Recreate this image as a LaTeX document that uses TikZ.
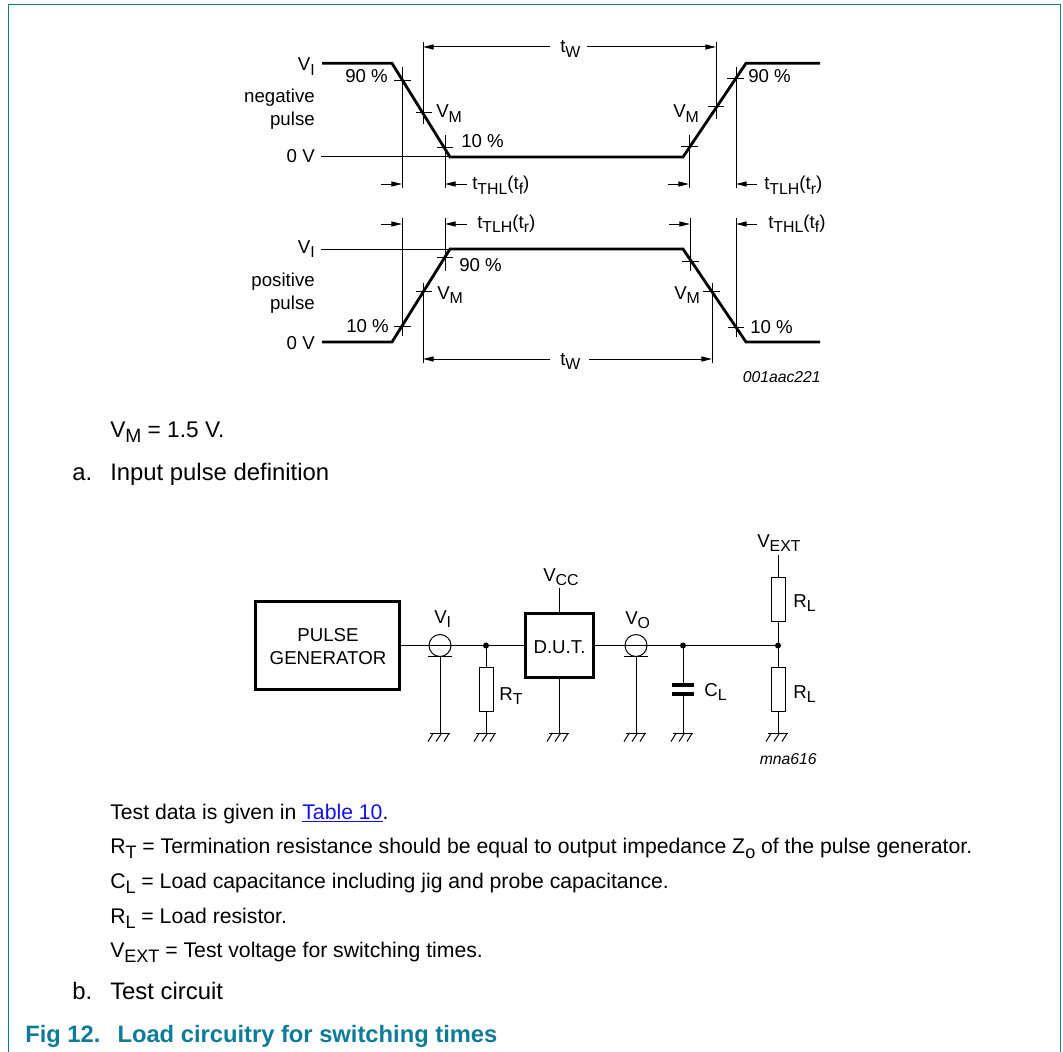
\documentclass[tikz,border=0pt]{standalone}
\usepackage{fontspec}
\usepackage{graphicx}
\setmainfont{Liberation Sans}
\usetikzlibrary{arrows.meta}
\definecolor{teal1}{HTML}{0E7C99}
\definecolor{link1}{HTML}{1010F0}
\newcommand{\sbs}[1]{\raisebox{-.25em}{\scalebox{.85}{#1}}}
\tikzset{
  x=0.75pt,y=-0.75pt,
  lbl/.style={inner sep=0pt,anchor=base west,font=\fontsize{14pt}{16pt}\selectfont},
  lblr/.style={lbl,anchor=base east},
  lblc/.style={lbl,anchor=base},
  tag/.style={inner sep=0pt,anchor=base east,font=\fontsize{11.8pt}{14pt}\itshape\selectfont},
  body/.style={inner sep=0pt,anchor=base west,font=\fontsize{17.9pt}{20pt}\selectfont},
  note/.style={inner sep=0pt,anchor=base west,font=\fontsize{15.9pt}{20pt}\selectfont},
  thin1/.style={line width=0.75pt},
  pulse/.style={line width=2.1pt,line join=miter},
  dim/.style={line width=0.75pt,-{Triangle[length=8pt,width=3.8pt]}},
  box/.style={draw,line width=2.1pt,inner sep=0pt},
  res/.style={draw,line width=0.75pt,fill=white,inner sep=0pt,minimum width=10.5pt,minimum height=33pt},
  circ/.style={draw,circle,line width=0.75pt,inner sep=0pt,minimum size=16.5pt},
  dot1/.style={fill,circle,inner sep=0pt,minimum size=4.5pt},
  pics/gndsym/.style={code={
    \draw[thin1] (-10,0) -- (9.5,0);
    \draw[thin1] (-6.7,0) -- (-12,8.5);
    \draw[thin1] (1.7,0) -- (-4,8.5);
    \draw[thin1] (9.3,0) -- (4,8.5);
  }},
}
\begin{document}
\begin{tikzpicture}
\useasboundingbox (0,0) rectangle (1063,1052);
% frame
\draw[teal1,line width=0.9pt] (8.3,1052) -- (8.3,4.5) -- (1060.5,4.5) -- (1060.5,1052);
% ---------- negative pulse
\draw[pulse] (322,63.3) -- (392,63.3) -- (450,157) -- (683,157) -- (746,63.3) -- (820,63.3);
\draw[thin1] (321,157) -- (450,157);
\draw[thin1] (394,80.5) -- (411,80.5);
\draw[thin1] (402,67) -- (402,188);
\draw[thin1] (416,113) -- (432,113);
\draw[thin1] (423,42) -- (423,124);
\draw[thin1] (437,148) -- (453,148);
\draw[thin1] (445,135) -- (445,188);
\draw[thin1] (681,147) -- (698,147);
\draw[thin1] (689,135) -- (689,188);
\draw[thin1] (708,107) -- (724,107);
\draw[thin1] (716,42) -- (716,119);
\draw[thin1] (727,79) -- (744,79);
\draw[thin1] (736,67) -- (736,188);
\draw[dim] (381,184) -- (402,184);
\draw[dim] (467,184) -- (445,184);
\draw[dim] (668,184) -- (689,184);
\draw[dim] (757,184) -- (736,184);
\draw[dim] (550,47) -- (423,47);
\draw[dim] (587,47) -- (716,47);
\node[lblr] (n1) at (315,71) {V\sbs{I}};
\node[lbl] (n2) at (345,83) {90 \%};
\node[lblr] (n3) at (315,103) {negative};
\node[lblr] (n4) at (315,126) {pulse};
\node[lblr] (n5) at (315,163) {0 V};
\node[lbl] (n6) at (436,118) {V\sbs{M}};
\node[lbl] (n7) at (461,147) {10 \%};
\node[lbl] (n8) at (472,190) {t\sbs{THL}(t\sbs{f})};
\node[lbl] (n9) at (560,53) {t\sbs{W}};
\node[lbl] (n10) at (748,83) {90 \%};
\node[lbl] (n11) at (673,118) {V\sbs{M}};
\node[lbl] (n12) at (764,190) {t\sbs{TLH}(t\sbs{r})};
% ---------- positive pulse
\draw[pulse] (322,342) -- (392,342) -- (450,249) -- (683,249) -- (746,342) -- (820,342);
\draw[thin1] (321,249) -- (450,249);
\draw[thin1] (402,218) -- (402,336);
\draw[thin1] (394,326) -- (411,326);
\draw[thin1] (416,291) -- (432,291);
\draw[thin1] (423,283) -- (423,363);
\draw[thin1] (437,257) -- (453,257);
\draw[thin1] (445,218) -- (445,271);
\draw[thin1] (682,261) -- (699,261);
\draw[thin1] (690,218) -- (690,271);
\draw[thin1] (703,291) -- (720,291);
\draw[thin1] (712,283) -- (712,363);
\draw[thin1] (728,327) -- (744,327);
\draw[thin1] (736,218) -- (736,337);
\draw[dim] (381,224) -- (402,224);
\draw[dim] (467,224) -- (445,224);
\draw[dim] (669,224) -- (690,224);
\draw[dim] (757,224) -- (736,224);
\draw[dim] (550,359) -- (423,359);
\draw[dim] (589,359) -- (712,359);
\node[lbl] (p1) at (477,228) {t\sbs{TLH}(t\sbs{r})};
\node[lblr] (p2) at (315,253) {V\sbs{I}};
\node[lbl] (p3) at (459,271) {90 \%};
\node[lblr] (p4) at (315,286) {positive};
\node[lblr] (p5) at (315,309) {pulse};
\node[lbl] (p6) at (437,299) {V\sbs{M}};
\node[lbl] (p7) at (346,332) {10 \%};
\node[lblr] (p8) at (315,349) {0 V};
\node[lbl] (p9) at (768,228) {t\sbs{THL}(t\sbs{f})};
\node[lbl] (p10) at (674,299) {V\sbs{M}};
\node[lbl] (p11) at (750,333) {10 \%};
\node[lbl] (p12) at (560,365) {t\sbs{W}};
\node[tag] (tag1) at (821,382) {001aac221};
% ---------- captions a
\node[note,font=\fontsize{17pt}{20pt}\selectfont] (c1) at (110,437) {V\sbs{M} = 1.5 V.};
\node[body] (c2) at (72,480) {a.};
\node[body] (c3) at (110,480) {Input pulse definition};
% ---------- circuit
\node[box,minimum width=108pt,minimum height=65.5pt] (pg) at (327.5,645.5) {};
\node[lblc] (pgt1) at (328,641) {PULSE};
\node[lblc] (pgt2) at (328,664) {GENERATOR};
\node[box,minimum width=51.5pt,minimum height=48.5pt] (dut) at (559.5,645.5) {};
\node[lblc] (dutt) at (559.5,653) {D.U.T.};
\coordinate (j1) at (486,645.5);
\coordinate (j2) at (683,645.5);
\coordinate (j3) at (778,645.5);
\node[circ] (ci) at (440,645.5) {};
\node[circ] (co) at (636,645.5) {};
\coordinate (bi) at (440,656);
\coordinate (bo) at (636,656);
\coordinate (gi) at (440,733);
\coordinate (gr) at (486,733);
\coordinate (gd) at (559,733);
\coordinate (go) at (636,733);
\coordinate (gc) at (683,733);
\coordinate (gl) at (778,733);
\coordinate (vcc) at (559,588);
\coordinate (vext) at (778,555);
\node[res] (rt) at (486,689) {};
\node[res] (rl1) at (778,599) {};
\node[res] (rl2) at (778,689.5) {};
\draw[thin1] (pg.east) -- (ci.center) -- (j1) -- (dut.west);
\draw[thin1] (dut.east) -- (co.center) -- (j2) -- (j3);
\draw[thin1] (j1) -- (rt.north);
\draw[thin1] (rt.south) -- (gr);
\draw[thin1] (vcc) -- (dut.north -| vcc);
\draw[thin1] (dut.south -| gd) -- (gd);
\draw[thin1] (bi) -- (gi);
\draw[thin1] (bo) -- (go);
\draw[thin1] (428,656) -- (452,656);
\draw[thin1] (624,656) -- (648,656);
\draw[thin1] (vext) -- (rl1.north);
\draw[thin1] (rl1.south) -- (j3) -- (rl2.north);
\draw[thin1] (rl2.south) -- (gl);
\coordinate (c1t) at (683,685);
\coordinate (c1b) at (683,694);
\draw[thin1] (j2) -- (c1t);
\draw[thin1] (c1b) -- (gc);
\draw[line width=2.3pt] (672,685) -- (694,685);
\draw[line width=2.3pt] (672,694) -- (694,694);
\node[dot1] (d1) at (j1) {};
\node[dot1] (d2) at (j2) {};
\node[dot1] (d3) at (j3) {};
\foreach \g in {gi,gr,gd,go,gc,gl} \path (\g) pic {gndsym};
\node[lbl] (t1) at (434,623) {V\sbs{I}};
\node[lbl] (t2) at (499,700) {R\sbs{T}};
\node[lbl] (t3) at (543,581) {V\sbs{CC}};
\node[lbl] (t4) at (625,624) {V\sbs{O}};
\node[lbl] (t5) at (704,696) {C\sbs{L}};
\node[lbl] (t6) at (757,547) {V\sbs{EXT}};
\node[lbl] (t7) at (793,607) {R\sbs{L}};
\node[lbl] (t8) at (793,698) {R\sbs{L}};
\node[tag] (tag2) at (817,764) {mna616};
% ---------- captions b
\node[note] (b1) at (110,819) {Test data is given in \textcolor{link1}{\underline{Table 10}}.};
\node[note] (b2) at (110,853) {R\sbs{T} = Termination resistance should be equal to output impedance Z\sbs{o} of the pulse generator.};
\node[note] (b3) at (110,888) {C\sbs{L} = Load capacitance including jig and probe capacitance.};
\node[note] (b4) at (110,923) {R\sbs{L} = Load resistor.};
\node[note] (b5) at (110,957) {V\sbs{EXT} = Test voltage for switching times.};
\node[body] (b6) at (72,999) {b.};
\node[body] (b7) at (110,999) {Test circuit};
\node[body,text=teal1,font=\fontsize{17.8pt}{22pt}\bfseries\selectfont] (fig) at (25,1042) {Fig 12.\hspace{0.72em}Load circuitry for switching times};
\end{tikzpicture}
\end{document}
